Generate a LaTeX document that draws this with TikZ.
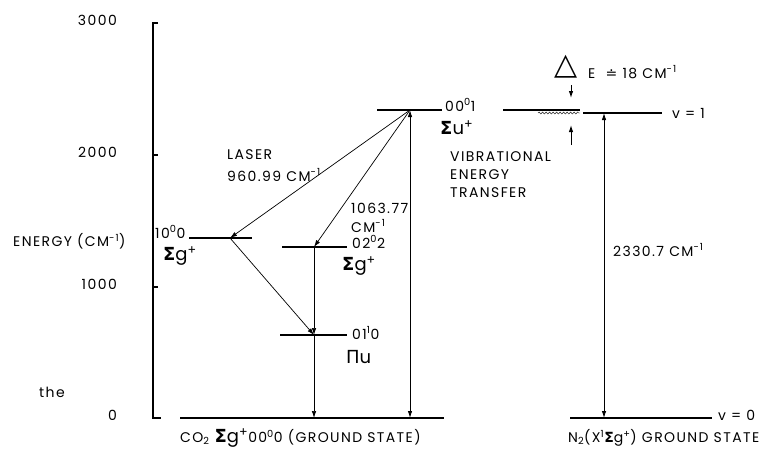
\documentclass[tikz,border=0pt]{standalone}
\usepackage{fontspec}
\setmainfont{Poppins}[LetterSpace=10]
\newfontfamily\grk{DejaVu Sans}
\usetikzlibrary{arrows.meta,decorations.pathmorphing}
\newcommand{\cmi}{CM\textsuperscript{-1}}
\newcommand{\bigS}{{\grk\bfseries Σ}}

\begin{document}
\begin{tikzpicture}[x=1pt,y=-1pt,
  lvl/.style={line width=1.8pt},
  tr/.style={line width=0.7pt,-{Latex[length=7pt,width=4.5pt]}},
  dbl/.style={line width=0.9pt,{Latex[length=7pt,width=4.5pt]}-{Latex[length=7pt,width=4.5pt]}},
  lab/.style={font=\fontsize{14}{18}\selectfont,inner sep=0pt},
  sym/.style={font=\fontsize{18}{20}\selectfont,inner sep=0pt}]

\useasboundingbox (0,0) rectangle (783,451);

% Eje de energía
\draw[line width=1.2pt] (158,23) -- (153,23) -- (153,418) -- (161,418);
\foreach \y/\t in {23/3000,155/2000,287/1000,418/0}{
  \draw[line width=1.2pt] (153,\y) -- (158,\y);
  \node[lab,anchor=east] at (117,\y-3) {\t};
}
\node[lab,anchor=west] at (13,241) {ENERGY (\cmi)};
\node[lab] at (52,392) {the};

% Niveles del CO2
\draw[lvl] (180,418) -- (444,418);
\draw[lvl] (189,238) -- (252,238);
\draw[lvl] (282,247) -- (347,247);
\draw[lvl] (280,335) -- (347,335);
\draw[lvl] (377,110) -- (442,110);

% Niveles del N2
\draw[line width=1.5pt] (503,110) -- (580,110);
\draw[decorate,decoration={snake,amplitude=1pt,segment length=3.5pt}] (538,113) -- (580,113);
\draw[lvl] (583,113) -- (662,113);
\draw[lvl] (570,418) -- (712,418);

% Puntos de las transiciones
\coordinate (s001) at (410,110);
\coordinate (s100) at (230,238);
\coordinate (s022) at (314,247);
\coordinate (s010) at (314,335);
\coordinate (g010) at (314,418);
\coordinate (g000) at (410,418);
\coordinate (n1) at (604,113);
\coordinate (n0) at (604,418);
\coordinate (da) at (571,85);
\coordinate (db) at (571,98);
\coordinate (ua) at (571,145);
\coordinate (ub) at (571,125);

% Transiciones
\draw[tr] (s001) -- (s100);
\draw[tr] (s001) -- (s022);
\draw[tr] (s100) -- (s010);
\draw[tr] (s022) -- (s010);
\draw[tr] (s010) -- (g010);
\draw[dbl] (g000) -- (s001);
\draw[dbl] (n0) -- (n1);
\draw[tr,line width=1pt] (da) -- (db);
\draw[tr,line width=1pt] (ua) -- (ub);

% Etiquetas
\node[lab,anchor=west] at (227,155) {LASER};
\node[lab,anchor=west] at (227,175) {960.99 \cmi};
\node[lab,anchor=west] at (351,208) {1063.77};
\node[lab,anchor=west] at (351,226) {\cmi};
\node[lab,anchor=west] at (155,232) {10\textsuperscript{0}0};
\node[sym,anchor=west] at (163,256) {\bigS g\textsuperscript{+}};
\node[lab,anchor=west] at (352,242) {02\textsuperscript{0}2};
\node[sym,anchor=west] at (342,266) {\bigS g\textsuperscript{+}};
\node[lab,anchor=west] at (352,333) {01\textsuperscript{1}0};
\node[sym,anchor=west] at (346,357) {{\grk Π}u};
\node[lab,anchor=west] at (445,105) {00\textsuperscript{0}1};
\node[sym,anchor=west] at (440,128) {\bigS u\textsuperscript{+}};
\node[lab,anchor=west,align=left] at (450,175) {VIBRATIONAL\\ENERGY\\TRANSFER};
\node[inner sep=0pt,anchor=south west,font=\grk\fontsize{30}{30}\selectfont] (dtri) at (554,78) {△};
\node[lab,anchor=west] (dtxt) at (588,72) {E\ \ {\grk ≐} 18 \cmi};
\node[lab,anchor=west] at (672,113) {v = 1};
\node[lab,anchor=west] at (613,250) {2330.7 \cmi};
\node[lab,anchor=west] at (718,415) {v = 0};
\node[lab,anchor=west] at (180,438) {CO\textsubscript{2} {\fontsize{18}{18}\selectfont\bigS g\textsuperscript{+}}00\textsuperscript{0}0 (GROUND STATE)};
\node[lab,anchor=west] at (568,438) {N\textsubscript{2}(X\textsuperscript{1}\bigS g\textsuperscript{+}) GROUND STATE};

\end{tikzpicture}
\end{document}
